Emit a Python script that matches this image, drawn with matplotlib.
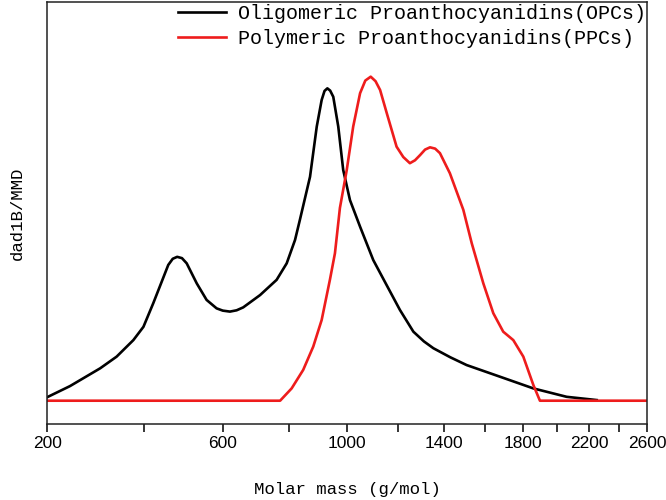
import numpy as np
import matplotlib
matplotlib.use("Agg")
import matplotlib.pyplot as plt
from matplotlib.ticker import FixedLocator, NullFormatter

# OPCs (black) - molar mass and detector response (relative units)
opc_mass = [200, 243, 304, 339, 376, 399, 422, 442, 458, 469, 480, 492, 504, 530, 556,
            583, 600, 620, 639, 658, 708, 759, 791, 818, 834, 868, 891, 908, 918, 928,
            938, 949, 967, 985, 1010, 1048, 1099, 1150, 1207, 1264, 1310, 1352, 1430,
            1508, 1677, 1859, 2056, 2247]
opc_signal = [1.1, 4.5, 10.0, 13.6, 18.7, 22.8, 30.1, 36.7, 41.9, 43.8, 44.4, 44.0,
              42.4, 36.2, 31.1, 28.5, 27.8, 27.5, 27.9, 28.8, 32.6, 37.3, 42.4, 49.6,
              55.8, 69.1, 84.6, 92.8, 95.6, 96.4, 95.7, 93.8, 84.6, 71.2, 61.9, 53.7,
              43.4, 36.0, 28.0, 21.3, 18.3, 16.2, 13.4, 11.0, 7.4, 3.8, 1.2, 0.2]

# PPCs (red)
ppc_mass = [200, 770, 807, 845, 879, 908, 937, 955, 973, 998, 1022, 1048, 1068, 1089,
            1108, 1126, 1153, 1193, 1221, 1249, 1271, 1293, 1315, 1337, 1360, 1382,
            1428, 1492, 1533, 1591, 1642, 1694, 1748, 1803, 1859, 1897, 2600]
ppc_signal = [0, 0, 3.8, 9.5, 16.7, 24.9, 37.3, 45.5, 59.5, 71.2, 84.6, 94.9, 98.8,
              100, 98.6, 95.9, 88.7, 78.4, 75.2, 73.3, 74.2, 75.8, 77.5, 78.2, 77.8,
              76.4, 70.2, 58.9, 48.6, 36.2, 27.0, 21.3, 18.7, 13.6, 4.9, 0, 0]

major_ticks = [200, 600, 1000, 1400, 1800, 2200, 2600]
minor_ticks = [400, 800, 1200, 1600, 2000, 2400]
labels = ["Oligomeric Proanthocyanidins(OPCs)", "Polymeric Proanthocyanidins(PPCs)"]

serif_mono = ["Liberation Mono", "DejaVu Sans Mono"]

fig = plt.figure(figsize=(6.66, 5.0), dpi=100)
ax = fig.add_axes([0.0710, 0.152, 0.9009, 0.844])

ax.set_xscale("function", functions=(lambda x: np.log(np.asarray(x) + 600.0),
                                     lambda y: np.exp(np.asarray(y)) - 600.0))

ax.plot(opc_mass, opc_signal, color="black", lw=1.9, label=labels[0],
        solid_joinstyle="round")
ax.plot(ppc_mass, ppc_signal, color="#ee1c1c", lw=1.9, label=labels[1],
        solid_joinstyle="round")

ax.set_xlim(200, 2600)
ax.set_ylim(-7.19, 123.05)

ax.xaxis.set_major_locator(FixedLocator(major_ticks))
ax.xaxis.set_minor_locator(FixedLocator(minor_ticks))
ax.xaxis.set_minor_formatter(NullFormatter())
ax.set_xticklabels([str(t) for t in major_ticks], family="Liberation Sans", fontsize=12.5)
ax.tick_params(axis="x", which="both", direction="out", length=5.5, width=1.1, pad=3.5,
               top=False)
ax.set_yticks([])
for s in ax.spines.values():
    s.set_linewidth(1.1)
    s.set_color("#222222")

ax.set_xlabel("Molar mass (g/mol)", family=serif_mono, fontsize=12.5, labelpad=22)
ax.set_ylabel("dad1B/MMD", family=serif_mono, fontsize=12.5, labelpad=16)

leg = ax.legend(loc="upper left", bbox_to_anchor=(0.214, 1.0), frameon=False,
                prop={"family": serif_mono, "size": 14.4},
                borderaxespad=0, borderpad=0.1, handlelength=2.4,
                handletextpad=0.6, labelspacing=0.3)

fig.savefig("out.png", dpi=100)
